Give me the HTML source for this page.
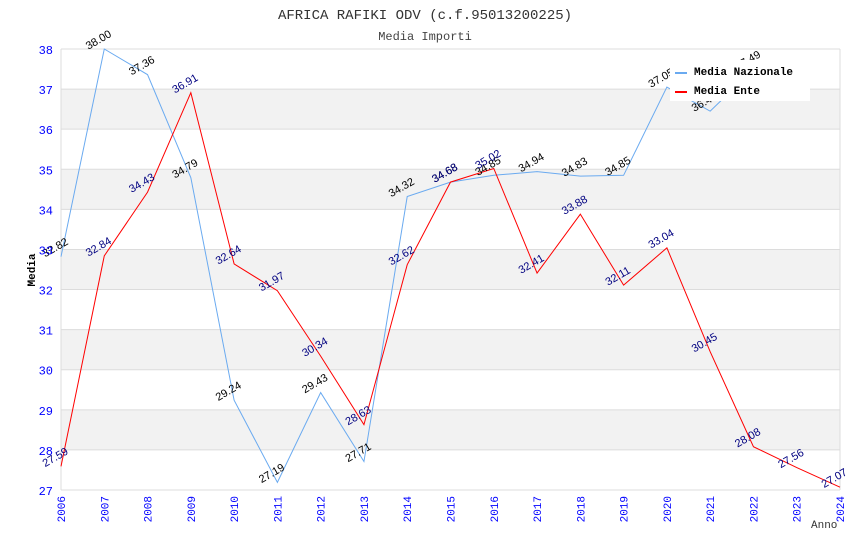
<!DOCTYPE html>
<html><head><meta charset="utf-8"><style>
body{margin:0;background:#fff;width:850px;height:550px;overflow:hidden}
svg{display:block}
</style></head><body>
<svg id="chart" width="850" height="550" xmlns="http://www.w3.org/2000/svg">
<text x="425" y="19" text-anchor="middle" font-family="Liberation Mono, DejaVu Sans Mono, monospace" font-size="14" fill="#333">AFRICA RAFIKI ODV (c.f.95013200225)</text>
<text x="425" y="40" text-anchor="middle" font-family="Liberation Mono, DejaVu Sans Mono, monospace" font-size="12" fill="#444">Media Importi</text>
<text transform="translate(35,270) rotate(-90)" text-anchor="middle" font-family="Liberation Mono, monospace" font-size="11" font-weight="bold" fill="#000">Media</text>
<text x="811" y="528" font-family="Liberation Mono, monospace" font-size="11" fill="#333">Anno</text>
<g id="bands"></g><g id="grid"></g><g id="lines"></g><g id="labels"></g><g id="ticks"></g>
<g>
<rect x="670" y="60" width="140" height="41" fill="#fff"/>
<line x1="675" y1="73" x2="687" y2="73" stroke="#6aaaf0" stroke-width="2"/>
<text x="694" y="75" font-family="Liberation Mono, monospace" font-size="11" font-weight="bold">Media Nazionale</text>
<line x1="675" y1="92" x2="687" y2="92" stroke="#ff0000" stroke-width="2"/>
<text x="694" y="94" font-family="Liberation Mono, monospace" font-size="11" font-weight="bold">Media Ente</text>
</g>
</svg>
<script>
const years=[2006,2007,2008,2009,2010,2011,2012,2013,2014,2015,2016,2017,2018,2019,2020,2021,2022,2023,2024];
const nazionale=[32.82,38.00,37.36,34.79,29.24,27.19,29.43,27.71,34.32,34.68,34.85,34.94,34.83,34.85,37.05,36.45,37.49,null,null];
const ente=[27.59,32.84,34.43,36.91,32.64,31.97,30.34,28.63,32.62,34.68,35.02,32.41,33.88,32.11,33.04,30.45,28.08,27.56,27.07];
const yTicks=[27,28,29,30,31,32,33,34,35,36,37,38];
const X0=61,X1=840,Y0=490,Y1=49,yMin=27,yMax=38;
const sx=i=>X0+(X1-X0)*i/(years.length-1);
const sy=v=>Y0-(v-yMin)/(yMax-yMin)*(Y0-Y1);
const NS='http://www.w3.org/2000/svg';
function mk(tag,attrs,parent){const e=document.createElementNS(NS,tag);for(const k in attrs)e.setAttribute(k,attrs[k]);document.getElementById(parent).appendChild(e);return e;}
for(let i=0;i<yTicks.length-1;i++){
  if(i%2===1){const r=mk('rect',{x:X0,y:sy(yTicks[i+1]),width:X1-X0,height:sy(yTicks[i])-sy(yTicks[i+1]),fill:'#f2f2f2'},'bands');
  
  }
}
yTicks.forEach(t=>{
  const l=mk('line',{x1:X0,x2:X1,y1:sy(t),y2:sy(t),stroke:'#dcdcdc'},'grid');
  
  
  const tx=mk('text',{x:X0-8,y:sy(t)+5,'text-anchor':'end','font-family':'Liberation Mono, monospace','font-size':'12',fill:'#0000ff'},'ticks');
  tx.textContent=t;
  
  
});
const fr=mk('line',{x1:X0,x2:X0,y1:Y1,y2:Y0,stroke:'#dcdcdc'},'grid');


const fr2=mk('line',{x1:X1,x2:X1,y1:Y1,y2:Y0,stroke:'#dcdcdc'},'grid');


years.forEach((y,i)=>{
  const t=mk('text',{transform:`translate(${sx(i)+4},${Y0+6}) rotate(-90)`,'text-anchor':'end','font-family':'Liberation Mono, monospace','font-size':'11',fill:'#0000ff'},'ticks');
  t.textContent=y;
  
  
});
function series(vals,color,lblColor,name){
  let d='';vals.forEach((v,i)=>{if(v==null)return;d+=(d?'L':'M')+sx(i)+','+sy(v);});
  const p=mk('path',{d:d,fill:'none',stroke:color,'stroke-width':1},'lines');
  
  
  vals.forEach((v,i)=>{if(v==null)return;
    const t=mk('text',{transform:`translate(${sx(i)-4},${sy(v)-6}) rotate(-30)`,'text-anchor':'middle','font-family':'Liberation Sans, sans-serif','font-size':'11',fill:lblColor},'labels');
    t.textContent=v.toFixed(2);
    
    
  });
}
series(nazionale,'#6aaaf0','#000','nazionale');
series(ente,'#ff0000','#000080','ente');
</script>
</body></html>
